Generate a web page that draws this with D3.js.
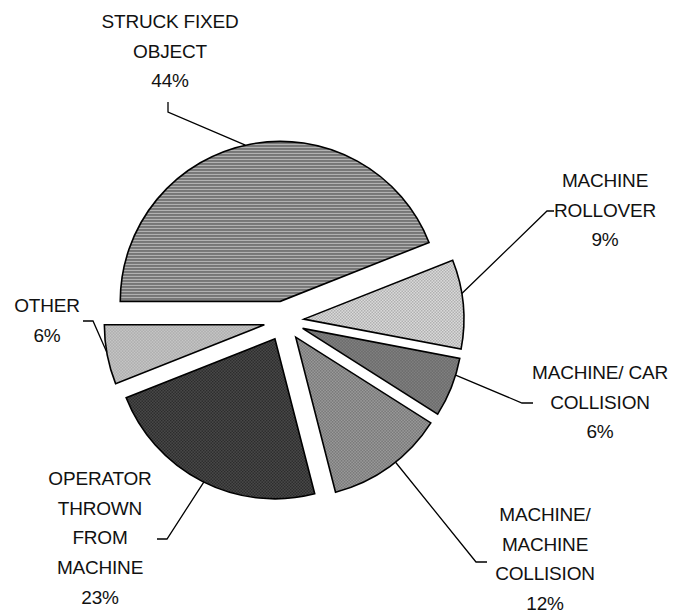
<!DOCTYPE html>
<html>
<head>
<meta charset="utf-8">
<script src="https://cdn.jsdelivr.net/npm/d3@7/dist/d3.min.js"></script>
<style>
  html, body { margin: 0; padding: 0; background: #fff; }
  svg { display: block; }
  text { font-family: "Liberation Sans", Arial, sans-serif; font-size: 19px; fill: #111; letter-spacing: -0.2px; }
</style>
</head>
<body>
<script>
// ---- data ----
const categories = ["STRUCK FIXED OBJECT", "MACHINE ROLLOVER", "MACHINE/ CAR COLLISION",
                    "MACHINE/ MACHINE COLLISION", "OPERATOR THROWN FROM MACHINE", "OTHER"];
const values = [44, 9, 6, 12, 23, 6];
const labelLines = [
  ["STRUCK FIXED", "OBJECT", "44%"],
  ["MACHINE", "ROLLOVER", "9%"],
  ["MACHINE/ CAR", "COLLISION", "6%"],
  ["MACHINE/", "MACHINE", "COLLISION", "12%"],
  ["OPERATOR", "THROWN", "FROM", "MACHINE", "23%"],
  ["OTHER", "6%"]
];

// ---- layout (positions / styles only) ----
const W = 685, H = 614;
const cx = 284, cy = 321, R = 160, explode = 20;
const labelPos = [
  {x: 170, y: 28}, {x: 605, y: 187}, {x: 600, y: 379},
  {x: 545, y: 521}, {x: 100, y: 485}, {x: 47, y: 312}
];
const lineH = 29.7;
// leader: tick points (start, bend) and angle on the slice rim where it touches
const leaders = [
  {p: [[168, 102], [168, 112]], a: -12.6},
  {p: [[554, 211], [547, 211]], a: 80.8},
  {p: [[533, 403], [522, 403]], a: 107},
  {p: [[487, 562], [476, 562]], a: 141.4},
  {p: [[157, 539], [167, 539]], a: 206.4},
  {p: [[83, 321], [93, 321]], a: 260.2}
];

const svg = d3.select("body").append("svg").attr("width", W).attr("height", H);
const defs = svg.append("defs");

// patterns
function stripes(id, bg, fg) {
  const p = defs.append("pattern").attr("id", id).attr("patternUnits", "userSpaceOnUse")
    .attr("width", 4).attr("height", 3);
  p.append("rect").attr("width", 4).attr("height", 3).attr("fill", bg);
  p.append("rect").attr("y", 0).attr("width", 4).attr("height", 1.4).attr("fill", fg);
}
function checker(id, a, b, size) {
  const p = defs.append("pattern").attr("id", id).attr("patternUnits", "userSpaceOnUse")
    .attr("width", size * 2).attr("height", size * 2);
  p.append("rect").attr("width", size * 2).attr("height", size * 2).attr("fill", a);
  p.append("rect").attr("width", size).attr("height", size).attr("fill", b);
  p.append("rect").attr("x", size).attr("y", size).attr("width", size).attr("height", size).attr("fill", b);
}
stripes("p0", "#c2c2c2", "#4c4c4c");
checker("p1", "#e2e2e2", "#a8a8a8", 1.5);
checker("p2", "#969696", "#555", 1.5);
checker("p3", "#a8a8a8", "#6a6a6a", 1.5);
checker("p4", "#505050", "#262626", 1.5);
checker("p5", "#d6d6d6", "#9c9c9c", 1.5);

const pie = d3.pie().sort(null).value(d => d)
  .startAngle(-Math.PI / 2).endAngle(3 * Math.PI / 2);
const arcs = pie(values);
const arc = d3.arc().innerRadius(0).outerRadius(R);

const g = svg.append("g").attr("transform", `translate(${cx},${cy})`);

const offs = arcs.map(d => {
  const m = (d.startAngle + d.endAngle) / 2;
  return [Math.sin(m) * explode, -Math.cos(m) * explode];
});

g.selectAll("path.slice").data(arcs).join("path")
  .attr("class", "slice")
  .attr("transform", (d, i) => `translate(${offs[i][0]},${offs[i][1]})`)
  .attr("d", arc)
  .attr("fill", (d, i) => `url(#p${i})`)
  .attr("stroke", "#000")
  .attr("stroke-width", 1.6)
  .attr("stroke-linejoin", "miter");

// leader lines
leaders.forEach((L, i) => {
  const a = L.a * Math.PI / 180;
  const ex = cx + offs[i][0] + Math.sin(a) * R;
  const ey = cy + offs[i][1] - Math.cos(a) * R;
  svg.append("path")
    .attr("d", d3.line()([...L.p, [ex, ey]]))
    .attr("fill", "none").attr("stroke", "#000").attr("stroke-width", 1.3);
});

// labels
labelLines.forEach((lines, i) => {
  const t = svg.append("text").attr("text-anchor", "middle");
  lines.forEach((s, k) => {
    t.append("tspan").attr("x", labelPos[i].x).attr("y", labelPos[i].y + k * lineH).text(s);
  });
});
</script>
</body>
</html>
